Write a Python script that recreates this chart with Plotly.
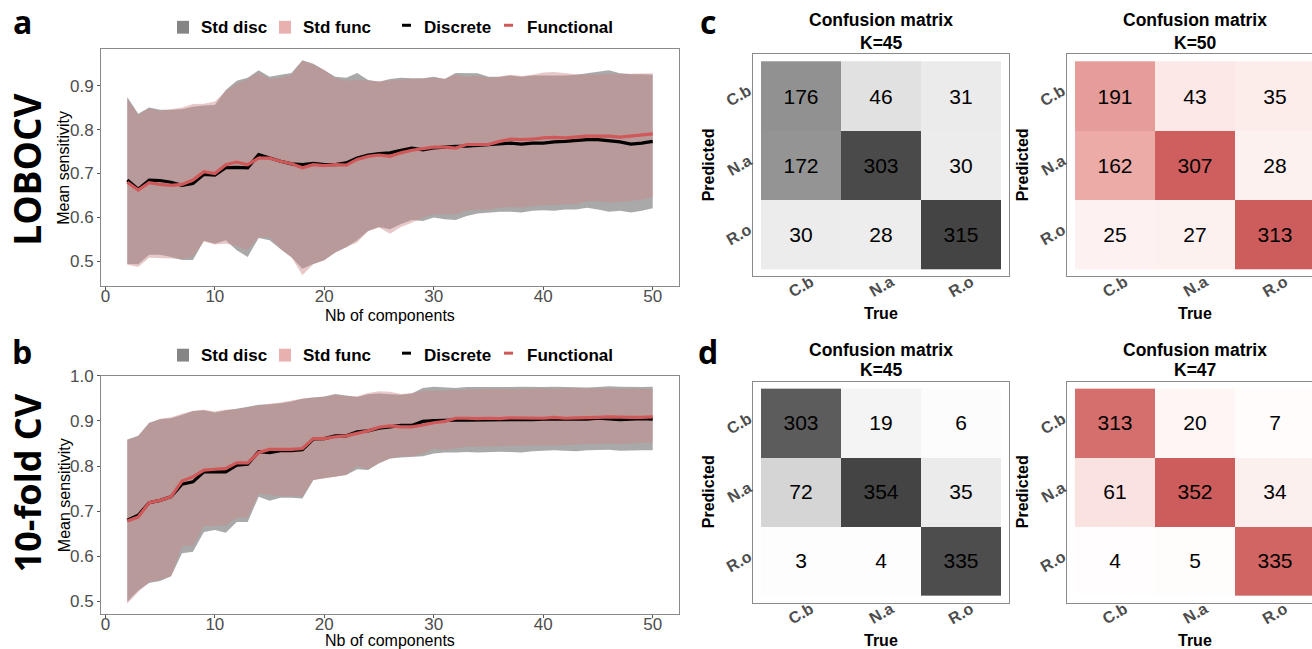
import plotly.graph_objects as go

# ---------------- data ----------------
comps = list(range(2, 51))

# Panel a : LOBOCV
a_disc_mean = [0.685, 0.664, 0.685, 0.684, 0.680, 0.673, 0.677, 0.698, 0.696, 0.713, 0.714, 0.713, 0.743, 0.735,
               0.728, 0.722, 0.720, 0.723, 0.720, 0.720, 0.724, 0.735, 0.742, 0.745, 0.747, 0.753, 0.758, 0.754,
               0.758, 0.760, 0.762, 0.762, 0.764, 0.766, 0.767, 0.769, 0.767, 0.769, 0.769, 0.772, 0.773, 0.775,
               0.777, 0.777, 0.775, 0.772, 0.767, 0.769, 0.773]
a_func_mean = [0.680, 0.662, 0.679, 0.675, 0.673, 0.675, 0.685, 0.704, 0.700, 0.720, 0.726, 0.720, 0.735, 0.735,
               0.728, 0.722, 0.713, 0.720, 0.718, 0.720, 0.719, 0.732, 0.739, 0.742, 0.739, 0.747, 0.753, 0.757,
               0.760, 0.760, 0.758, 0.766, 0.766, 0.766, 0.773, 0.778, 0.777, 0.778, 0.781, 0.782, 0.781, 0.783,
               0.785, 0.785, 0.785, 0.783, 0.785, 0.787, 0.790]
a_disc_hi = [0.874, 0.836, 0.850, 0.845, 0.845, 0.846, 0.852, 0.855, 0.856, 0.890, 0.911, 0.918, 0.935, 0.920,
             0.925, 0.929, 0.958, 0.950, 0.935, 0.920, 0.918, 0.929, 0.913, 0.909, 0.915, 0.918, 0.917, 0.917,
             0.920, 0.915, 0.929, 0.928, 0.928, 0.920, 0.920, 0.923, 0.920, 0.923, 0.923, 0.924, 0.923, 0.925,
             0.928, 0.932, 0.935, 0.928, 0.926, 0.926, 0.925]
a_func_hi = [0.870, 0.834, 0.848, 0.843, 0.846, 0.850, 0.858, 0.859, 0.864, 0.888, 0.905, 0.915, 0.930, 0.915,
             0.918, 0.925, 0.956, 0.948, 0.936, 0.917, 0.911, 0.913, 0.912, 0.910, 0.912, 0.914, 0.915, 0.916,
             0.918, 0.916, 0.925, 0.920, 0.922, 0.918, 0.920, 0.925, 0.922, 0.925, 0.930, 0.931, 0.928, 0.926,
             0.925, 0.926, 0.926, 0.927, 0.927, 0.928, 0.928]
a_disc_lo = [0.494, 0.493, 0.515, 0.515, 0.510, 0.503, 0.503, 0.547, 0.540, 0.548, 0.525, 0.510, 0.553, 0.548,
             0.528, 0.509, 0.483, 0.494, 0.503, 0.520, 0.532, 0.548, 0.569, 0.578, 0.573, 0.585, 0.594, 0.592,
             0.600, 0.596, 0.594, 0.603, 0.609, 0.611, 0.613, 0.613, 0.611, 0.615, 0.616, 0.615, 0.618, 0.618,
             0.622, 0.618, 0.613, 0.615, 0.611, 0.615, 0.621]
a_func_lo = [0.492, 0.487, 0.508, 0.507, 0.505, 0.505, 0.510, 0.545, 0.538, 0.540, 0.535, 0.525, 0.555, 0.555,
             0.528, 0.509, 0.468, 0.494, 0.502, 0.520, 0.532, 0.543, 0.569, 0.577, 0.563, 0.578, 0.588, 0.600,
             0.607, 0.607, 0.607, 0.615, 0.618, 0.618, 0.622, 0.624, 0.622, 0.626, 0.628, 0.628, 0.630, 0.630,
             0.637, 0.637, 0.634, 0.635, 0.637, 0.640, 0.646]

# Panel b : 10-fold CV
b_disc_mean = [0.680, 0.691, 0.719, 0.724, 0.732, 0.760, 0.765, 0.787, 0.787, 0.787, 0.802, 0.804, 0.832, 0.830,
               0.834, 0.834, 0.836, 0.860, 0.861, 0.867, 0.867, 0.876, 0.878, 0.884, 0.887, 0.890, 0.890, 0.899,
               0.901, 0.902, 0.902, 0.902, 0.902, 0.903, 0.902, 0.903, 0.903, 0.903, 0.904, 0.904, 0.903, 0.904,
               0.904, 0.906, 0.905, 0.903, 0.904, 0.905, 0.904]
b_func_mean = [0.678, 0.687, 0.719, 0.724, 0.732, 0.767, 0.776, 0.791, 0.793, 0.795, 0.807, 0.807, 0.830, 0.837,
               0.837, 0.837, 0.839, 0.861, 0.861, 0.865, 0.867, 0.873, 0.878, 0.886, 0.889, 0.887, 0.887, 0.891,
               0.896, 0.899, 0.906, 0.906, 0.905, 0.906, 0.905, 0.907, 0.907, 0.906, 0.906, 0.908, 0.906, 0.907,
               0.907, 0.908, 0.909, 0.908, 0.908, 0.908, 0.909]
b_disc_hi = [0.859, 0.867, 0.896, 0.904, 0.906, 0.913, 0.922, 0.924, 0.919, 0.924, 0.927, 0.932, 0.936, 0.937,
             0.939, 0.943, 0.949, 0.952, 0.954, 0.960, 0.956, 0.953, 0.959, 0.961, 0.959, 0.958, 0.961, 0.973,
             0.976, 0.975, 0.973, 0.975, 0.975, 0.974, 0.975, 0.975, 0.976, 0.975, 0.975, 0.976, 0.975, 0.975,
             0.974, 0.975, 0.977, 0.976, 0.975, 0.975, 0.976]
b_func_hi = [0.857, 0.866, 0.895, 0.905, 0.908, 0.916, 0.922, 0.925, 0.921, 0.925, 0.926, 0.930, 0.935, 0.938,
             0.941, 0.945, 0.950, 0.952, 0.953, 0.958, 0.955, 0.955, 0.962, 0.966, 0.965, 0.960, 0.962, 0.966,
             0.967, 0.968, 0.969, 0.970, 0.970, 0.971, 0.971, 0.970, 0.971, 0.972, 0.972, 0.971, 0.972, 0.973,
             0.972, 0.972, 0.971, 0.972, 0.972, 0.971, 0.971]
b_disc_lo = [0.499, 0.524, 0.541, 0.545, 0.556, 0.607, 0.610, 0.654, 0.658, 0.652, 0.676, 0.676, 0.732, 0.723,
             0.730, 0.730, 0.728, 0.769, 0.773, 0.776, 0.780, 0.793, 0.791, 0.806, 0.817, 0.819, 0.821, 0.822,
             0.828, 0.830, 0.830, 0.831, 0.830, 0.831, 0.832, 0.831, 0.830, 0.833, 0.834, 0.835, 0.834, 0.833,
             0.835, 0.836, 0.836, 0.834, 0.835, 0.835, 0.835]
b_func_lo = [0.495, 0.521, 0.543, 0.548, 0.556, 0.622, 0.624, 0.667, 0.667, 0.669, 0.686, 0.686, 0.739, 0.736,
             0.733, 0.733, 0.733, 0.769, 0.773, 0.776, 0.780, 0.800, 0.793, 0.806, 0.817, 0.821, 0.821, 0.828,
             0.839, 0.836, 0.839, 0.843, 0.843, 0.844, 0.844, 0.845, 0.845, 0.846, 0.846, 0.846, 0.847, 0.847,
             0.848, 0.849, 0.850, 0.849, 0.850, 0.850, 0.852]

x_ticks = [0, 10, 20, 30, 40, 50]
a_y_ticks = [0.5, 0.6, 0.7, 0.8, 0.9]
b_y_ticks = [0.5, 0.6, 0.7, 0.8, 0.9, 1.0]

# Confusion matrices (rows = Predicted, cols = True)
cm_labels = ["C.b", "N.a", "R.o"]
cm_c_disc = [[176, 46, 31], [172, 303, 30], [30, 28, 315]]
cm_c_func = [[191, 43, 35], [162, 307, 28], [25, 27, 313]]
cm_d_disc = [[303, 19, 6], [72, 354, 35], [3, 4, 335]]
cm_d_func = [[313, 20, 7], [61, 352, 34], [4, 5, 335]]
cm_titles = ["K=45", "K=50", "K=45", "K=47"]

# ---------------- helpers ----------------
W, H = 1312, 649


def dom_x(a, b):
    return [a / W, min(b / W, 1.0)]


def dom_y(top, bot):
    return [1 - bot / H, 1 - top / H]


def py(p):
    return 1 - p / H


def pxx(p):
    return p / W


def _lin(c):
    c = c / 255.0
    return c / 12.92 if c <= 0.04045 else ((c + 0.055) / 1.055) ** 2.4


def _delin(c):
    c = 12.92 * c if c <= 0.0031308 else 1.055 * c ** (1 / 2.4) - 0.055
    return int(max(0, min(255, round(c * 255))))


def rgb_to_lab(rgb):
    r, g, b = [_lin(v) for v in rgb]
    X = (0.4124 * r + 0.3576 * g + 0.1805 * b) / 0.95047
    Y = 0.2126 * r + 0.7152 * g + 0.0722 * b
    Z = (0.0193 * r + 0.1192 * g + 0.9505 * b) / 1.08883

    def f(t):
        return t ** (1 / 3) if t > 0.008856 else 7.787 * t + 16 / 116
    fx, fy, fz = f(X), f(Y), f(Z)
    return (116 * fy - 16, 500 * (fx - fy), 200 * (fy - fz))


def lab_to_rgb(lab):
    L, a, b = lab
    fy = (L + 16) / 116
    fx = fy + a / 500
    fz = fy - b / 200

    def finv(t):
        return t ** 3 if t ** 3 > 0.008856 else (t - 16 / 116) / 7.787
    X = 0.95047 * finv(fx)
    Y = finv(fy)
    Z = 1.08883 * finv(fz)
    r = 3.2406 * X - 1.5372 * Y - 0.4986 * Z
    g = -0.9689 * X + 1.8758 * Y + 0.0415 * Z
    bb = 0.0557 * X - 0.2040 * Y + 1.0570 * Z
    return tuple(_delin(max(0.0, v)) for v in (r, g, bb))


def lab_scale(lo, hi, n=21):
    l1, l2 = rgb_to_lab(lo), rgb_to_lab(hi)
    out = []
    for i in range(n):
        t = i / (n - 1)
        r, g, b = lab_to_rgb(tuple(l1[k] + t * (l2[k] - l1[k]) for k in range(3)))
        out.append([t, f"rgb({r},{g},{b})"])
    return out


GREY_SCALE = lab_scale((255, 255, 255), (68, 68, 68))
RED_SCALE = lab_scale((255, 255, 255), (205, 92, 92))

FONT = "Liberation Sans, Arial, sans-serif"
BIG = "Open Sans, Liberation Sans, sans-serif"
GREY_FILL = "rgba(128,128,128,0.68)"
PINK_FILL = "rgba(205,135,135,0.45)"
BLACK_LINE = "#000000"
RED_LINE = "#d05858"
BOX = "#8a8a8a"

fig = go.Figure()

# ---------------- line panels ----------------
line_panels = [
    ("x", "y", a_disc_lo, a_disc_hi, a_func_lo, a_func_hi, a_disc_mean, a_func_mean),
    ("x2", "y2", b_disc_lo, b_disc_hi, b_func_lo, b_func_hi, b_disc_mean, b_func_mean),
]
for xa, ya, dlo, dhi, flo, fhi, dm, fm in line_panels:
    for lo, hi, col in ((dlo, dhi, GREY_FILL), (flo, fhi, PINK_FILL)):
        fig.add_trace(go.Scatter(x=comps, y=lo, mode="lines", line=dict(width=0, color=col),
                                 xaxis=xa, yaxis=ya, hoverinfo="skip", showlegend=False))
        fig.add_trace(go.Scatter(x=comps, y=hi, mode="lines", line=dict(width=0, color=col),
                                 fill="tonexty", fillcolor=col,
                                 xaxis=xa, yaxis=ya, hoverinfo="skip", showlegend=False))
    fig.add_trace(go.Scatter(x=comps, y=dm, mode="lines", line=dict(width=3.2, color=BLACK_LINE),
                             xaxis=xa, yaxis=ya, showlegend=False))
    fig.add_trace(go.Scatter(x=comps, y=fm, mode="lines", line=dict(width=3.2, color=RED_LINE),
                             xaxis=xa, yaxis=ya, showlegend=False))

# ---------------- heatmaps ----------------
cms = [
    ("x3", "y3", cm_c_disc, GREY_SCALE),
    ("x4", "y4", cm_c_func, RED_SCALE),
    ("x5", "y5", cm_d_disc, GREY_SCALE),
    ("x6", "y6", cm_d_func, RED_SCALE),
]
for xa, ya, z, cs in cms:
    zmax = max(max(r) for r in z)
    fig.add_trace(go.Heatmap(z=z, x=cm_labels, y=cm_labels, xaxis=xa, yaxis=ya,
                             colorscale=cs, zmin=0, zmax=zmax, showscale=False,
                             texttemplate="%{z}", textfont=dict(size=21, color="black", family=FONT),
                             hoverinfo="skip"))

# ---------------- axes ----------------
line_ax = dict(showline=True, linecolor=BOX, linewidth=1, mirror=True, showgrid=False, zeroline=False)
tick_ax = dict(ticks="outside", ticklen=3, tickcolor="#555555", tickwidth=1,
               tickfont=dict(size=17, color="#4d4d4d", family=FONT))

layout_axes = dict(
    xaxis=dict(domain=dom_x(101, 679), range=[-0.4, 52.4], tickvals=x_ticks, anchor="y",
               ticklabelstandoff=-9, **line_ax, **tick_ax),
    yaxis=dict(domain=dom_y(41, 281), range=[0.4435, 0.9825], tickvals=a_y_ticks, tickformat=".1f",
               anchor="x", **line_ax, **tick_ax),
    xaxis2=dict(domain=dom_x(101, 679), range=[-0.4, 52.4], tickvals=x_ticks, anchor="y2",
                ticklabelstandoff=-9, **line_ax, **tick_ax),
    yaxis2=dict(domain=dom_y(372, 614), range=[0.471, 1.0], tickvals=b_y_ticks, tickformat=".1f",
                anchor="x2", **line_ax, **tick_ax),
)

cm_geo = [
    # axis suffix, left, right, top, bottom, x range end, right line, title1 y, title2 y, True y, xlab y
    ("3", 753, 1009, 46, 271, 2.6, True, 11, 34, 309, 281),
    ("4", 1067, 1312, 46, 271, -0.6 + (1312 - 1067) / 80.0, False, 11, 34, 309, 281),
    ("5", 753, 1009, 378, 602, 2.6, True, 346, 366, 640, 613),
    ("6", 1067, 1312, 378, 602, -0.6 + (1312 - 1067) / 80.0, False, 346, 366, 640, 613),
]
for n, l, r, t, b, xr, right, *_ in cm_geo:
    layout_axes[f"xaxis{n}"] = dict(domain=dom_x(l, r), range=[-0.6, xr], type="category",
                                    showticklabels=False, ticks="", anchor=f"y{n}",
                                    showline=True, linecolor=BOX, linewidth=1, mirror=True,
                                    showgrid=False, zeroline=False)
    layout_axes[f"yaxis{n}"] = dict(domain=dom_y(t, b), range=[2.6, -0.6], type="category",
                                    showticklabels=False, ticks="", anchor=f"x{n}",
                                    showline=True, linecolor=BOX, linewidth=1, mirror=right,
                                    showgrid=False, zeroline=False)

fig.update_layout(**layout_axes)

# ---------------- annotations / legend ----------------
ann = []
shapes = []


def text(x, y, s, size, bold=False, color="black", angle=0, xanchor="center", yanchor="middle",
         family=FONT, xref="paper", yref="paper"):
    ann.append(dict(x=x, y=y, xref=xref, yref=yref, text=s, showarrow=False, textangle=angle,
                    xanchor=xanchor, yanchor=yanchor,
                    font=dict(size=size, color=color, family=family, weight=700 if bold else 400)))


# panel letters and row titles
for letter, xp, yp in (("a", 22, 13), ("b", 22, 347), ("c", 708, 13), ("d", 708, 347)):
    text(pxx(xp), py(yp), letter, 32, bold=True, family=BIG)
text(pxx(27), py(163), "LOBOCV", 37, bold=True, angle=-90, family=BIG)
text(pxx(27), py(481), "10-fold CV", 36, bold=True, angle=-90, family=BIG)

# line-panel axis titles
for yt, yc in ((311, 161), (640, 493)):
    text(pxx(390), py(yt), "Nb of components", 16)
    text(pxx(64), py(yc), "Mean sensitivity", 16, angle=-90)

# custom legends
for yc in (18.5, 351):
    shapes.append(dict(type="rect", xref="paper", yref="paper", x0=pxx(177), x1=pxx(189),
                       y0=py(yc - 6.5), y1=py(yc + 6.5), fillcolor="#858585", line=dict(width=0)))
    shapes.append(dict(type="rect", xref="paper", yref="paper", x0=pxx(279), x1=pxx(291),
                       y0=py(yc - 6.5), y1=py(yc + 6.5), fillcolor="#e9b0b0", line=dict(width=0)))
    shapes.append(dict(type="line", xref="paper", yref="paper", x0=pxx(402), x1=pxx(411),
                       y0=py(yc - 2), y1=py(yc - 2), line=dict(color=BLACK_LINE, width=3)))
    shapes.append(dict(type="line", xref="paper", yref="paper", x0=pxx(504), x1=pxx(513),
                       y0=py(yc - 2), y1=py(yc - 2), line=dict(color=RED_LINE, width=3)))
    for xl, s in ((199, "Std disc"), (301, "Std func"), (422, "Discrete"), (525, "Functional")):
        text(pxx(xl), py(yc), s, 17, bold=True, xanchor="left")

# confusion-matrix titles and axis labels
for (n, l, r, t, b, xr, right, ty1, ty2, tyt, tyx), sub in zip(cm_geo, cm_titles):
    cx = l + 8 + 120  # tile centre
    text(pxx(cx), py(ty1), "Confusion matrix", 17.5, bold=True)
    text(pxx(cx), py(ty2), sub, 17.5, bold=True)
    text(pxx(cx), py(tyt), "True", 16, bold=True)
    text(pxx(l - 45), py((t + b) / 2), "Predicted", 16, bold=True, angle=-90)
    for lab in cm_labels:
        text(lab, py(tyx), lab, 16, bold=True, color="#4d4d4d", angle=-30, xref=f"x{n}")
        text(pxx(l - 14), lab, lab, 16, bold=True, color="#4d4d4d", angle=-30, yref=f"y{n}")

fig.update_layout(width=W, height=H, margin=dict(l=0, r=0, t=0, b=0),
                  paper_bgcolor="white", plot_bgcolor="white", showlegend=False,
                  font=dict(family=FONT), annotations=ann, shapes=shapes)

fig.write_html("out.html", config={"displayModeBar": False},
               post_script="document.body.style.margin='0';document.body.style.overflow='hidden';")
